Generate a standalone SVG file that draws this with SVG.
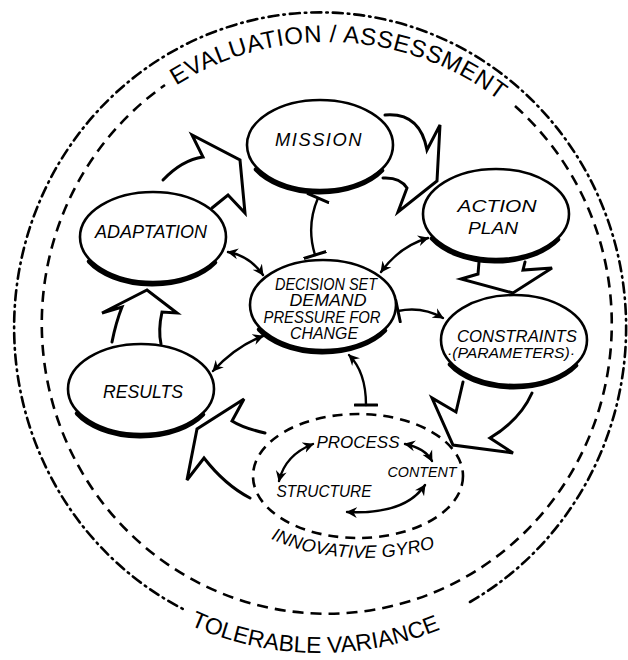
<svg xmlns="http://www.w3.org/2000/svg" width="628" height="660" viewBox="0 0 628 660">
<style>
.bg{fill:#fff}
.node{fill:#fff;stroke:#000;stroke-width:2.6}
.shade{fill:none;stroke:#000;stroke-width:4.5;stroke-linecap:round}
.lbl{font-family:"Liberation Sans",Arial,sans-serif;font-style:italic;fill:#000;text-anchor:middle}
.big{font-family:"Liberation Sans",Arial,sans-serif;fill:#000}
.fat{fill:none;stroke:#000;stroke-width:3;stroke-linejoin:miter;stroke-linecap:round}
.thin{fill:none;stroke:#000;stroke-width:2.4;stroke-linecap:round}
.dashdot{fill:none;stroke:#000;stroke-width:2.6;stroke-dasharray:10 5 1.5 5;stroke-linecap:round}
.dashed{fill:none;stroke:#000;stroke-width:2.6;stroke-dasharray:11 7}
.gyro{fill:none;stroke:#000;stroke-width:2.6;stroke-dasharray:10 7}
</style>
<defs>
<marker id="ah" viewBox="0 0 12 12" refX="10" refY="6" markerWidth="12" markerHeight="12" markerUnits="userSpaceOnUse" orient="auto-start-reverse">
<path d="M0,0.5 L11,6 L0,11.5 L3.5,6 Z" fill="#000"/>
</marker>
<marker id="tb" viewBox="0 0 12 24" refX="6" refY="12" markerWidth="12" markerHeight="24" markerUnits="userSpaceOnUse" orient="auto">
<path d="M6,1 L6,23" stroke="#000" stroke-width="3" stroke-linecap="round"/>
</marker>
<g id="oval">
<ellipse class="node" cx="0" cy="0" rx="73" ry="45"/>
<path class="shade" d="M-64,23 A73 45 0 0 0 62,24" transform="translate(0,1.5)"/>
</g>
</defs>
<rect class="bg" x="0" y="0" width="628" height="660"/>

<g id="frame">
<path class="dashdot" d="M470,602 A306 315 0 1 0 187,611"/>
<path class="dashed" d="M515,106 A285 290 0 1 1 165,85"/>
<path id="topArc" fill="none" d="M44,324 A283 282 0 0 1 610,324"/>
<path id="botArc" fill="none" d="M-2,327 A322 326 0 0 0 642,327"/>
<path id="gyroArc" fill="none" d="M205,458 A160 100 0 0 0 525,458"/>
<text class="big" font-size="24" letter-spacing="0.6" text-anchor="middle"><textPath href="#topArc" startOffset="51.5%">EVALUATION / ASSESSMENT</textPath></text>
<text class="big" font-size="23" text-anchor="middle"><textPath href="#botArc" startOffset="49.5%">TOLERABLE VARIANCE</textPath></text>
</g>

<g id="connectors">
<path class="fat" d="M163,180 Q182,160 203,157 L192,135 L240,160 L245,213 L228,195 L212,208"/>
<path class="fat" d="M385,115 Q420,112 427,150 L440,125 L437,181 L398,212 L407,188 Q400,177 383,178"/>
<path class="fat" d="M479,262 L478,274 L461,279 L513,293 L552,268 L523,270 L525,262"/>
<path class="fat" d="M463,382 L456,412 L432,398 L453,445 L513,453 L490,438 Q520,420 532,393"/>
<path class="fat" d="M265,433 Q243,428 232,421 L244,399 L197,429 L187,480 L204,458 Q225,485 250,498"/>
<path class="fat" d="M112,342 Q116,322 122,307 L102,313 L147,290 L177,313 L162,312 Q158,330 161,344"/>
<path class="thin" d="M318,198 Q306,226 315,255" marker-start="url(#tb)" marker-end="url(#tb)"/>
<path class="thin" d="M228,252 Q250,256 263,275" marker-start="url(#ah)" marker-end="url(#ah)"/>
<path class="thin" d="M381,272 Q400,246 428,238" marker-start="url(#ah)" marker-end="url(#ah)"/>
<path class="thin" d="M398,311 Q422,306 443,318" marker-start="url(#tb)" marker-end="url(#ah)"/>
<path class="thin" d="M213,371 Q236,346 263,336" marker-start="url(#ah)" marker-end="url(#ah)"/>
<path class="thin" d="M349,355 Q366,372 366,405" marker-start="url(#ah)" marker-end="url(#tb)"/>
<path class="thin" d="M313,444 Q285,455 279,481" marker-start="url(#ah)" marker-end="url(#ah)"/>
<path class="thin" d="M405,444 Q425,448 432,461" marker-start="url(#ah)" marker-end="url(#ah)"/>
<path class="thin" d="M425,485 Q405,515 347,512" marker-start="url(#ah)" marker-end="url(#ah)"/>
</g>

<g id="mission">
<use href="#oval" transform="translate(320,145)"/>
<text class="lbl" x="319" y="146" font-size="18" letter-spacing="1.5" textLength="88" lengthAdjust="spacingAndGlyphs">MISSION</text>
</g>
<g id="adaptation">
<use href="#oval" transform="translate(153,237)"/>
<text class="lbl" x="151" y="238" font-size="18" textLength="112" lengthAdjust="spacingAndGlyphs">ADAPTATION</text>
</g>
<g id="action-plan">
<use href="#oval" transform="translate(496,214)"/>
<text class="lbl" x="497" y="212" font-size="17" textLength="79" lengthAdjust="spacingAndGlyphs">ACTION</text>
<text class="lbl" x="493" y="234" font-size="17" textLength="50" lengthAdjust="spacingAndGlyphs">PLAN</text>
</g>
<g id="decision">
<use href="#oval" transform="translate(323,305)"/>
<text class="lbl" x="326" y="290" font-size="16" textLength="102" lengthAdjust="spacingAndGlyphs">DECISION SET</text>
<text class="lbl" x="328" y="306" font-size="16" textLength="77" lengthAdjust="spacingAndGlyphs">DEMAND</text>
<text class="lbl" x="322" y="323" font-size="16" textLength="117" lengthAdjust="spacingAndGlyphs">PRESSURE FOR</text>
<text class="lbl" x="324" y="339" font-size="16" textLength="68" lengthAdjust="spacingAndGlyphs">CHANGE</text>
</g>
<g id="constraints">
<use href="#oval" transform="translate(514,340)"/>
<text class="lbl" x="517" y="342" font-size="17" textLength="120" lengthAdjust="spacingAndGlyphs">CONSTRAINTS</text>
<text class="lbl" x="511" y="358" font-size="14" textLength="128" lengthAdjust="spacingAndGlyphs">·(PARAMETERS)·</text>
</g>
<g id="results">
<use href="#oval" transform="translate(141,389)"/>
<text class="lbl" x="143" y="398" font-size="18" textLength="80" lengthAdjust="spacingAndGlyphs">RESULTS</text>
</g>
<g id="innovative-gyro">
<ellipse class="gyro" cx="358" cy="476" rx="105" ry="62"/>
<text class="lbl" x="358" y="448" font-size="16" textLength="83" lengthAdjust="spacingAndGlyphs">PROCESS</text>
<text class="lbl" x="422" y="477" font-size="14" textLength="69" lengthAdjust="spacingAndGlyphs">CONTENT</text>
<text class="lbl" x="324" y="497" font-size="16" textLength="95" lengthAdjust="spacingAndGlyphs">STRUCTURE</text>
<text class="big" font-size="18" font-style="italic"><textPath href="#gyroArc" startOffset="110" textLength="168" lengthAdjust="spacing">INNOVATIVE GYRO</textPath></text>
</g>
</svg>
